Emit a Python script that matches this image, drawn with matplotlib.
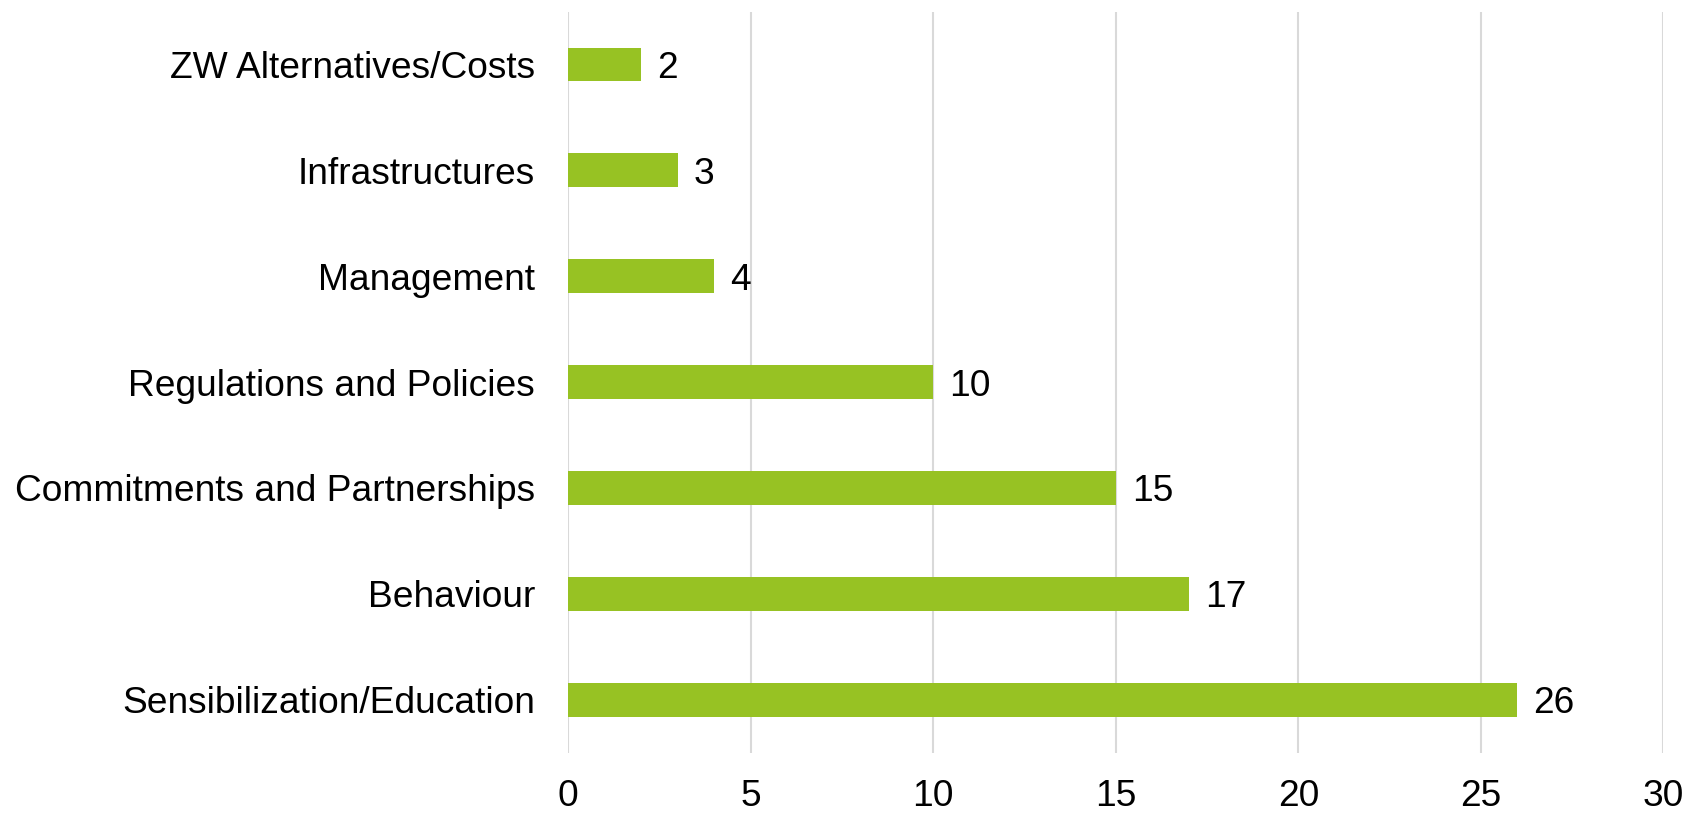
import matplotlib.pyplot as plt

# data
categories = ["Sensibilization/Education", "Behaviour", "Commitments and Partnerships",
              "Regulations and Policies", "Management", "Infrastructures",
              "ZW Alternatives/Costs"]
counts = [26, 17, 15, 10, 4, 3, 2]
x_ticks = [0, 5, 10, 15, 20, 25, 30]

plt.rcParams["font.family"] = ["Liberation Sans", "DejaVu Sans"]

fig = plt.figure(figsize=(16.89, 8.13), dpi=100)
ax = fig.add_axes([0.3365, 0.0744, 0.6483, 0.9114])

bars = ax.barh(categories, counts, height=0.32, color="#97C223", zorder=3)
for b, v in zip(bars, counts):
    ax.annotate(str(v), (b.get_width(), b.get_y() + b.get_height() / 2),
                xytext=(16, 0), textcoords="offset pixels",
                va="center_baseline", ha="left", fontsize=26.7, color="black")

ax.set_xlim(0, 30)
ax.set_ylim(-0.5, 6.5)
ax.set_xticks(x_ticks)
ax.xaxis.grid(True, color="#D9D9D9", linewidth=1.5, zorder=0)
for s in ax.spines.values():
    s.set_visible(False)
ax.tick_params(axis="both", length=0, labelsize=26.7, colors="black")
ax.tick_params(axis="y", pad=24)
ax.tick_params(axis="x", pad=19)

fig.savefig("out.png", dpi=100)
plt.close()
